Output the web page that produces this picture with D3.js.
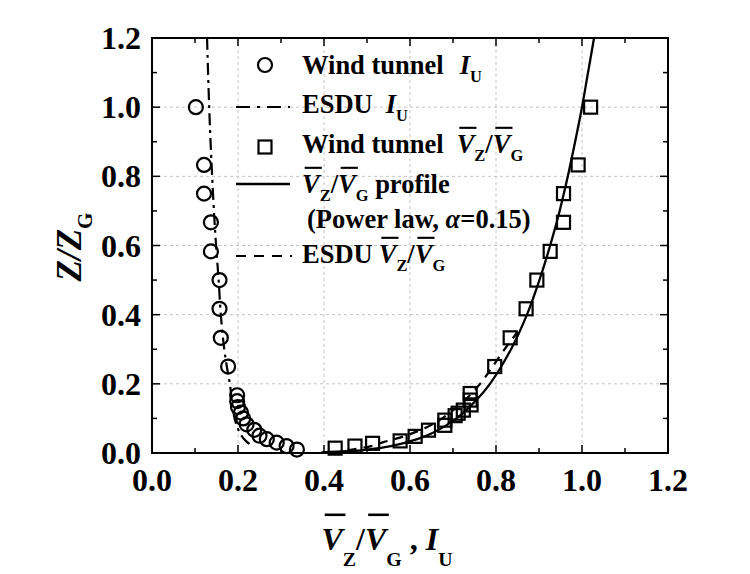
<!DOCTYPE html>
<html><head><meta charset="utf-8">
<script src="https://cdn.jsdelivr.net/npm/d3@7"></script>
<style>
body{margin:0;background:#fff;}
svg text{font-family:"Liberation Serif","Times New Roman",serif;font-weight:bold;fill:#000;}
</style>
</head><body>
<svg id="chart" width="750" height="574"></svg>
<script>
// ---- data ----
const xTickValues = [0.0, 0.2, 0.4, 0.6, 0.8, 1.0, 1.2];
const yTickValues = [0.0, 0.2, 0.4, 0.6, 0.8, 1.0, 1.2];
const gridValues = [0.2, 0.4, 0.6, 0.8, 1.0];

// Wind tunnel turbulence intensity I_U (circles)
const tunnelIU  = [0.102,0.121,0.121,0.137,0.137,0.157,0.157,0.160,0.177,0.198,0.198,0.200,0.207,0.212,0.220,0.238,0.250,0.267,0.290,0.313,0.337];
const tunnelIUZ = [1.000,0.833,0.750,0.667,0.583,0.500,0.417,0.333,0.250,0.167,0.150,0.133,0.117,0.100,0.083,0.067,0.050,0.040,0.030,0.020,0.010];

// ESDU I_U (dash-dot)
const esduIU  = [0.128,0.133,0.138,0.144,0.149,0.155,0.160,0.168,0.174,0.181,0.186,0.192,0.200,0.208,0.218,0.228];
const esduIUZ = [1.200,1.000,0.850,0.700,0.600,0.500,0.400,0.300,0.250,0.200,0.150,0.100,0.070,0.050,0.035,0.025];

// Wind tunnel mean speed ratio (squares)
const tunnelV  = [1.020,0.991,0.957,0.957,0.926,0.895,0.870,0.833,0.797,0.740,0.740,0.742,0.724,0.712,0.705,0.681,0.681,0.643,0.612,0.577,0.513,0.472,0.426];
const tunnelVZ = [1.000,0.833,0.750,0.667,0.583,0.500,0.417,0.333,0.250,0.172,0.153,0.139,0.124,0.115,0.108,0.095,0.080,0.066,0.048,0.035,0.028,0.020,0.014];

// Power law profile (alpha = 0.15), solid
const powerV = [0.394,0.452,0.501,0.556,0.617,0.656,0.708,0.752,0.786,0.835,0.872,0.901,0.926,0.948,0.967,0.984,1.000,1.014,1.028];
const powerZ = [0.002,0.005,0.010,0.020,0.040,0.060,0.100,0.150,0.200,0.300,0.400,0.500,0.600,0.700,0.800,0.900,1.000,1.100,1.200];

// ESDU mean speed ratio, dashed
const esduV = [0.455,0.510,0.535,0.590,0.640,0.675,0.725,0.763,0.792,0.820,0.850];
const esduVZ = [0.008,0.020,0.030,0.050,0.075,0.100,0.150,0.200,0.250,0.300,0.350];

// ---- layout ----
const L = 152, R = 668, T = 38, B = 453;
const svg = d3.select('#chart');
const x = d3.scaleLinear().domain([0, 1.2]).range([L, R]);
const y = d3.scaleLinear().domain([0, 1.2]).range([B, T]);

// grid
const grid = svg.append('g').attr('stroke', '#c4c4c4').attr('stroke-width', 1).attr('stroke-dasharray', '3,3');
gridValues.forEach(v => {
  grid.append('line').attr('x1', x(v)).attr('x2', x(v)).attr('y1', T).attr('y2', B);
  grid.append('line').attr('x1', L).attr('x2', R).attr('y1', y(v)).attr('y2', y(v));
});

svg.append('clipPath').attr('id', 'clip').append('rect').attr('x', L).attr('y', T).attr('width', R - L).attr('height', B - T);
const plot = svg.append('g').attr('clip-path', 'url(#clip)');

const zip = (a, b) => a.map((v, i) => [v, b[i]]);
const line = d3.line().x(d => x(d[0])).y(d => y(d[1])).curve(d3.curveCatmullRom.alpha(0.5));

plot.append('path').datum(zip(esduIU, esduIUZ)).attr('d', line)
  .attr('fill', 'none').attr('stroke', '#000').attr('stroke-width', 2.2).attr('stroke-dasharray', '12,5,3,5');
plot.append('path').datum(zip(powerV, powerZ)).attr('d', line)
  .attr('fill', 'none').attr('stroke', '#000').attr('stroke-width', 2.3);
plot.append('path').datum(zip(esduV, esduVZ)).attr('d', line)
  .attr('fill', 'none').attr('stroke', '#000').attr('stroke-width', 2.2).attr('stroke-dasharray', '9,7');

// markers
svg.append('g').selectAll('circle').data(zip(tunnelIU, tunnelIUZ)).join('circle')
  .attr('cx', d => x(d[0])).attr('cy', d => y(d[1])).attr('r', 7)
  .attr('fill', 'none').attr('stroke', '#000').attr('stroke-width', 2.2);
const S = 13;
svg.append('g').selectAll('rect').data(zip(tunnelV, tunnelVZ)).join('rect')
  .attr('x', d => x(d[0]) - S / 2).attr('y', d => y(d[1]) - S / 2).attr('width', S).attr('height', S)
  .attr('fill', 'none').attr('stroke', '#000').attr('stroke-width', 2.2);

// frame and ticks
const minor = d3.range(0, 1.2001, 0.1);
const tk = svg.append('g').attr('stroke', '#000').attr('stroke-width', 1.5);
minor.forEach((v, i) => {
  const len = (i % 2 === 0) ? 8 : 5;
  tk.append('line').attr('x1', x(v)).attr('x2', x(v)).attr('y1', B).attr('y2', B - len);
  tk.append('line').attr('x1', x(v)).attr('x2', x(v)).attr('y1', T).attr('y2', T + len);
  tk.append('line').attr('x1', L).attr('x2', L + len).attr('y1', y(v)).attr('y2', y(v));
  tk.append('line').attr('x1', R).attr('x2', R - len).attr('y1', y(v)).attr('y2', y(v));
});
svg.append('rect').attr('x', L).attr('y', T).attr('width', R - L).attr('height', B - T)
  .attr('fill', 'none').attr('stroke', '#000').attr('stroke-width', 2);

// tick labels
const fmt = d3.format('.1f');
svg.append('g').selectAll('text').data(xTickValues).join('text')
  .attr('x', d => x(d)).attr('y', 491).attr('text-anchor', 'middle').style('font-size', '32px').text(fmt);
svg.append('g').selectAll('text').data(yTickValues).join('text')
  .attr('x', 141).attr('y', d => y(d) + 11).attr('text-anchor', 'end').style('font-size', '32px').text(fmt);

// rich text helper
function rich(g, x0, y0, segs, fs, o) {
  o = Object.assign({subScale: 0.62, subDrop: 0.3, barUp: 0.95}, o || {});
  let cx = x0;
  segs.forEach(s => {
    if (s.gap) { cx += s.gap; return; }
    const size = s.sub ? fs * o.subScale : fs;
    const t = g.append('text').attr('x', cx).attr('y', y0 + (s.sub ? fs * o.subDrop : 0))
      .style('font-size', size + 'px').style('font-style', s.it ? 'italic' : 'normal')
      .style('white-space', 'pre').text(s.t);
    const w = t.node().getComputedTextLength();
    if (s.bar) {
      g.append('line').attr('x1', cx + fs * 0.1).attr('x2', cx + w + fs * 0.08)
        .attr('y1', y0 - fs * o.barUp).attr('y2', y0 - fs * o.barUp)
        .attr('stroke', '#000').attr('stroke-width', fs * 0.08);
    }
    cx += w;
  });
  return cx;
}
const VZVG = [{t:'V', it:1, bar:1}, {t:'Z', sub:1}, {t:'/'}, {t:'V', it:1, bar:1}, {t:'G', sub:1}];

// legend
const lg = svg.append('g');
const FS = 26.5, TX = 302, MX = 265;
lg.append('circle').attr('cx', MX).attr('cy', 65).attr('r', 7).attr('fill', 'none').attr('stroke', '#000').attr('stroke-width', 2.2);
rich(lg, TX, 74, [{t:'Wind tunnel'}, {gap: 16}, {t:'I', it:1}, {t:'U', sub:1}], FS);

lg.append('line').attr('x1', 236).attr('x2', 290).attr('y1', 107).attr('y2', 107)
  .attr('stroke', '#000').attr('stroke-width', 2.2).attr('stroke-dasharray', '14,7,3,7');
rich(lg, TX, 113, [{t:'ESDU'}, {gap: 13}, {t:'I', it:1}, {t:'U', sub:1}], FS);

lg.append('rect').attr('x', MX - S / 2).attr('y', 147 - S / 2).attr('width', S).attr('height', S)
  .attr('fill', 'none').attr('stroke', '#000').attr('stroke-width', 2.2);
rich(lg, TX, 153, [{t:'Wind tunnel'}, {gap: 13}].concat(VZVG), FS);

lg.append('line').attr('x1', 236).attr('x2', 290).attr('y1', 184).attr('y2', 184)
  .attr('stroke', '#000').attr('stroke-width', 2.3);
rich(lg, TX, 193, VZVG.concat([{t:' profile'}]), FS);
rich(lg, 307, 228, [{t:'(Power law, '}, {t:'α', it:1}, {t:'=0.15)'}], FS);

lg.append('line').attr('x1', 236).attr('x2', 292).attr('y1', 256).attr('y2', 256)
  .attr('stroke', '#000').attr('stroke-width', 2.2).attr('stroke-dasharray', '10,8');
rich(lg, TX, 263, [{t:'ESDU'}, {gap: 6}].concat(VZVG), FS);

// x axis title
const xt = svg.append('g');
const xw = rich(xt, 0, 0, VZVG.concat([{t:' , '}, {t:'I', it:1}, {t:'U', sub:1}]), 32, {subDrop: 0.5, subScale: 0.62, barUp: 1.1});
xt.attr('transform', `translate(${387 - xw / 2},550)`);

// y axis title
const yt = svg.append('g');
const yw = rich(yt, 0, 0, [{t:'Z/Z', it:1}, {t:'G', sub:1}], 35, {subDrop: 0.3, subScale: 0.6});
yt.attr('transform', `translate(81,${247 + yw / 2}) rotate(-90)`);
</script>
</body></html>
